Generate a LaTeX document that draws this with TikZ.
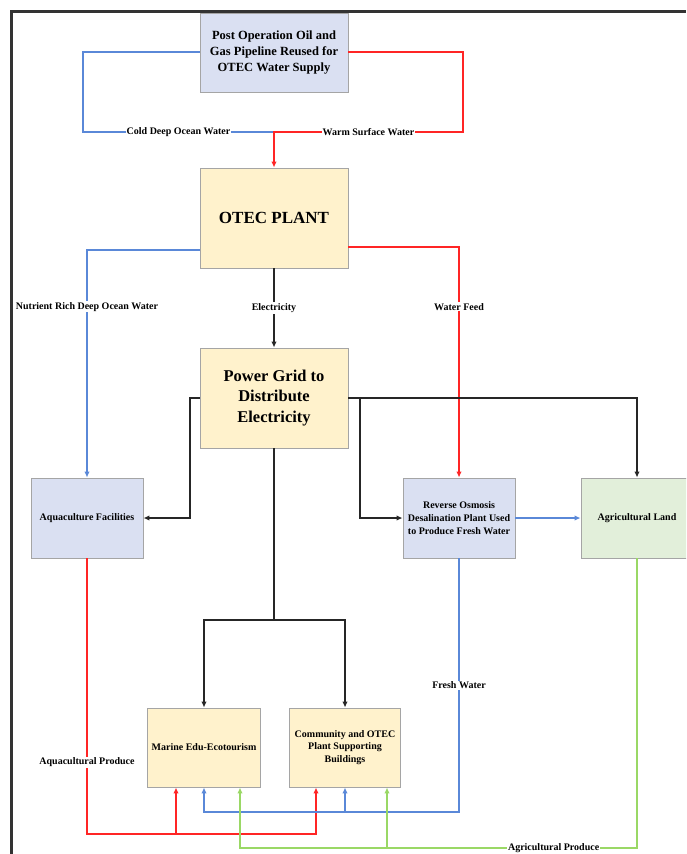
\documentclass[tikz,border=0pt]{standalone}
\usepackage{fontspec}
\setmainfont{Liberation Serif}
\usetikzlibrary{arrows.meta,positioning}

\definecolor{boxblue}{HTML}{DAE0F2}
\definecolor{boxyellow}{HTML}{FFF2CC}
\definecolor{boxgreen}{HTML}{E2EFDA}
\definecolor{edgegray}{HTML}{A5A5A5}
\definecolor{coldblue}{HTML}{5A88D8}
\definecolor{warmred}{HTML}{FF2525}
\definecolor{leafgreen}{HTML}{9AD865}

\begin{document}
\begin{tikzpicture}[x=1pt, y=-1pt,
  main/.style = {draw=edgegray, line width=0.9pt, align=center, font=\bfseries},
  small/.style = {main, minimum width=112pt, minimum height=80pt, font=\fontsize{10}{12.8}\selectfont\bfseries},
  big/.style = {main, minimum width=148pt, minimum height=100pt},
  lbl/.style = {fill=white, inner sep=1pt, font=\fontsize{10}{11}\selectfont\bfseries},
  tip/.style = {-{Latex[length=6pt,width=5.5pt]}},
  cold/.style = {draw=coldblue, line width=1.7pt},
  warm/.style = {draw=warmred, line width=1.7pt},
  leaf/.style = {draw=leafgreen, line width=1.9pt},
  power/.style = {draw=black!85, line width=1.6pt}]
\clip (0,0) rectangle (686,854);
\fill[white] (0,0) rectangle (686,854);
\draw[line width=3pt, black!80] (11,854) -- (11,11) -- (686,11);

\node[main, fill=boxblue, minimum width=148pt, minimum height=79pt,
  font=\fontsize{12.5}{16}\selectfont\bfseries] (pipe) at (274,52.5)
  {Post Operation Oil and\\Gas Pipeline Reused for\\OTEC Water Supply};
\node[big, fill=boxyellow, font=\fontsize{17}{20}\selectfont\bfseries] (otec) at (274,218) {OTEC PLANT};
\node[big, fill=boxyellow, font=\fontsize{16.5}{20.5}\selectfont\bfseries] (grid) at (274,398)
  {Power Grid to\\Distribute\\Electricity};
\node[small, fill=boxblue] (aqua) at (87,518) {Aquaculture Facilities};
\node[small, fill=boxblue] (ro) at (459,518)
  {Reverse Osmosis\\Desalination Plant Used\\to Produce Fresh Water};
\node[small, fill=boxgreen] (agri) at (637,518) {Agricultural Land};
\node[small, fill=boxyellow, minimum width=113pt, minimum height=79pt] (marine) at (204,747.5)
  {Marine Edu-Ecotourism};
\node[small, fill=boxyellow, minimum width=111pt, minimum height=79pt] (comm) at (345,747.5)
  {Community and OTEC\\Plant Supporting\\Buildings};

\coordinate (mix) at (274,132);
\coordinate (tap) at (360,398);
\coordinate (split) at (274,620);

% pipeline feed
\draw[cold] ([yshift=0.5pt]pipe.west) -| (83,132) -- node[lbl]{Cold Deep Ocean Water} (mix);
\draw[warm, tip] ([yshift=0.5pt]pipe.east) -| (463,132) -- node[lbl]{Warm Surface Water} (mix) -- (otec.north);

% plant outputs
\draw[cold, tip] ([yshift=-32pt]otec.west) -| node[lbl, pos=0.625]{Nutrient Rich Deep Ocean Water} (aqua.north);
\draw[warm, tip] ([yshift=-29pt]otec.east) -| node[lbl, pos=0.63]{Water Feed} (ro.north);
\draw[power, tip] (otec.south) -- node[lbl]{Electricity} (grid.north);

% power grid
\draw[power, tip] (grid.west) -- (190,398) |- (aqua.east);
\draw[power, tip] (grid.east) -| (agri.north);
\draw[power, tip] (tap) |- (ro.west);
\draw[power] (grid.south) -- (split);
\draw[power, tip] (split) -| (marine.north);
\draw[power, tip] (split) -| (comm.north);

\draw[cold, tip] (ro.east) -- (agri.west);

% produce and water to buildings
\draw[warm, tip] (aqua.south) -- node[lbl, pos=0.74]{Aquacultural Produce} (87,834) -| ([xshift=-29pt]comm.south);
\draw[warm, tip] (176,834) -- ([xshift=-28pt]marine.south);
\draw[cold, tip] (ro.south) -- node[lbl, pos=0.5]{Fresh Water} (459,812) -| (marine.south);
\draw[cold, tip] (345,812) -- (comm.south);
\draw[leaf, tip] (agri.south) -- (637,848) -- node[lbl, pos=0.21]{Agricultural Produce} (240,848) -- ([xshift=36pt]marine.south);
\draw[leaf, tip] (387,848) -- ([xshift=42pt]comm.south);
\end{tikzpicture}
\end{document}
